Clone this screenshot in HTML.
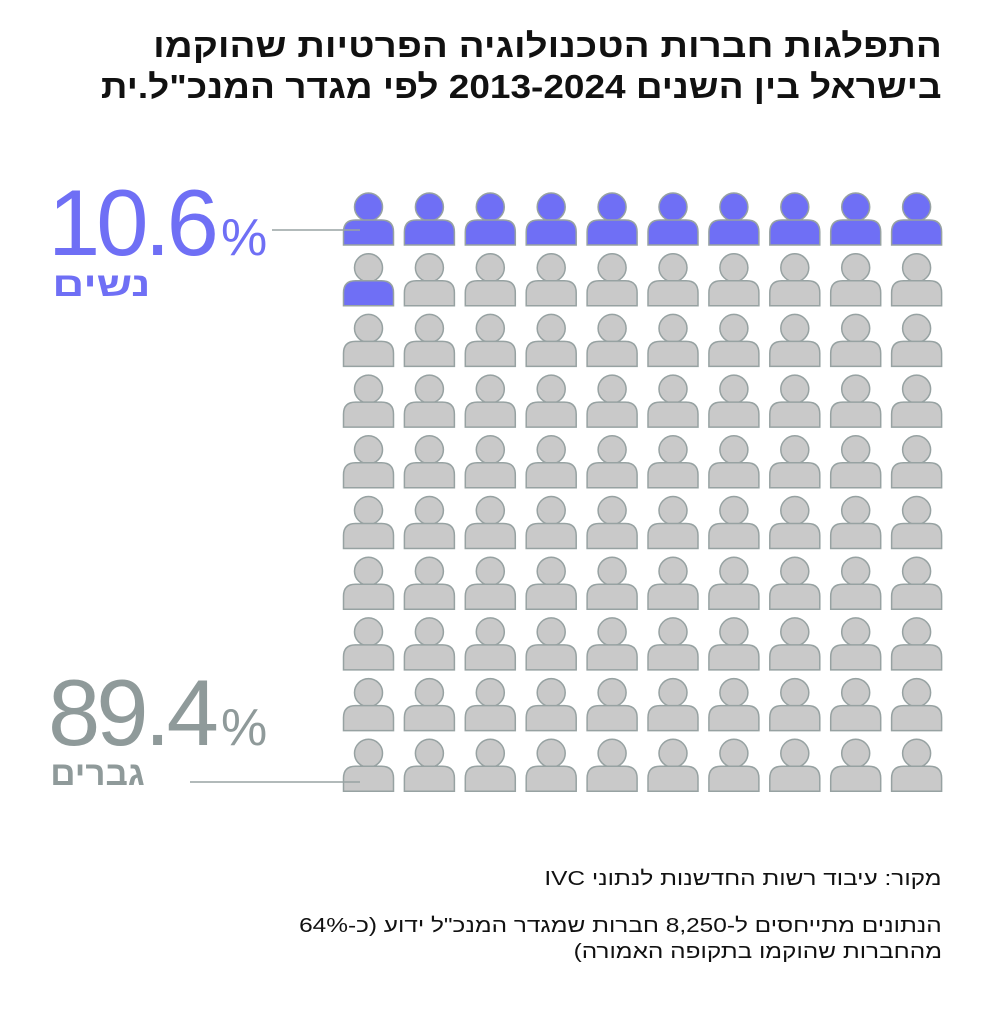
<!DOCTYPE html>
<html><head><meta charset="utf-8"><style>
body{margin:0;background:#fff;width:989px;height:1024px;overflow:hidden;position:relative;font-family:"Liberation Sans","Noto Sans CJK SC",sans-serif}
svg{display:block;position:absolute;left:0;top:0}
.t{position:absolute;right:47px;direction:rtl;text-align:right;white-space:nowrap;color:#111;transform-origin:right center}
.h{font-size:33px;font-weight:bold;line-height:41px;transform:scaleX(1.167)}
.f{font-size:20px;line-height:26px;transform:scaleX(1.22)}
</style></head><body>
<svg width="989" height="1024" xmlns="http://www.w3.org/2000/svg" font-family="'Liberation Sans',sans-serif">
<defs>
<g id="g" fill="#c9c9c9" stroke="#97a2a2" stroke-width="1.5"><circle cx="25.5" cy="-13" r="14"/><path d="M0.5,25 V12 Q0.5,0 12.5,0 H38.5 Q50.5,0 50.5,12 V25 Z"/></g>
<g id="p" fill="#6f6ff5" stroke="#97a2a2" stroke-width="1.5"><circle cx="25.5" cy="-13" r="14"/><path d="M0.5,25 V12 Q0.5,0 12.5,0 H38.5 Q50.5,0 50.5,12 V25 Z"/></g>
<g id="m" stroke="#97a2a2" stroke-width="1.5"><circle cx="25.5" cy="-13" r="14" fill="#c9c9c9"/><path d="M0.5,25 V12 Q0.5,0 12.5,0 H38.5 Q50.5,0 50.5,12 V25 Z" fill="#6f6ff5"/></g>
<g id="rp"><use href="#p"/><use href="#p" x="60.9"/><use href="#p" x="121.8"/><use href="#p" x="182.7"/><use href="#p" x="243.6"/><use href="#p" x="304.5"/><use href="#p" x="365.4"/><use href="#p" x="426.3"/><use href="#p" x="487.2"/><use href="#p" x="548.1"/></g>
<g id="r9"><use href="#g" x="60.9"/><use href="#g" x="121.8"/><use href="#g" x="182.7"/><use href="#g" x="243.6"/><use href="#g" x="304.5"/><use href="#g" x="365.4"/><use href="#g" x="426.3"/><use href="#g" x="487.2"/><use href="#g" x="548.1"/></g>
<g id="rg"><use href="#g"/><use href="#r9"/></g>
</defs>
<g transform="translate(343,220)">
<use href="#rp"/>
<g transform="translate(0,60.7)"><use href="#m"/><use href="#r9"/></g>
<use href="#rg" y="121.4"/><use href="#rg" y="182.1"/><use href="#rg" y="242.8"/><use href="#rg" y="303.5"/><use href="#rg" y="364.2"/><use href="#rg" y="424.9"/><use href="#rg" y="485.6"/><use href="#rg" y="546.3"/>
</g>
<line x1="272" y1="230" x2="360" y2="230" stroke="#98a3a3" stroke-width="1.5"/>
<line x1="190" y1="782" x2="360" y2="782" stroke="#98a3a3" stroke-width="1.5"/>
<text x="48" y="255" font-size="94" fill="#6f6ff5" letter-spacing="-4">10.6<tspan font-size="52" dx="6">%</tspan></text>
<text x="48" y="745" font-size="94" fill="#8f9a9a" letter-spacing="-4">89.4<tspan font-size="52" dx="6">%</tspan></text>
</svg>
<div class="t h" style="top:25px">התפלגות חברות הטכנולוגיה הפרטיות שהוקמו</div>
<div class="t h" style="top:66px;transform:scaleX(1.12)">בישראל בין השנים 2013-2024 לפי מגדר המנכ"ל.ית</div>
<div class="t" style="right:839px;top:266px;font-size:34px;font-weight:bold;color:#6f6ff5;transform:scaleX(1.3)">נשים</div>
<div class="t" style="right:844px;top:755px;font-size:34px;font-weight:bold;color:#8f9a9a;transform:scaleX(1.03)">גברים</div>
<div class="t f" style="top:866px">מקור: עיבוד רשות החדשנות לנתוני IVC</div>
<div class="t f" style="top:913px">הנתונים מתייחסים ל-8,250 חברות שמגדר המנכ"ל ידוע (כ-64%</div>
<div class="t f" style="top:939px">מהחברות שהוקמו בתקופה האמורה)</div>
</body></html>
